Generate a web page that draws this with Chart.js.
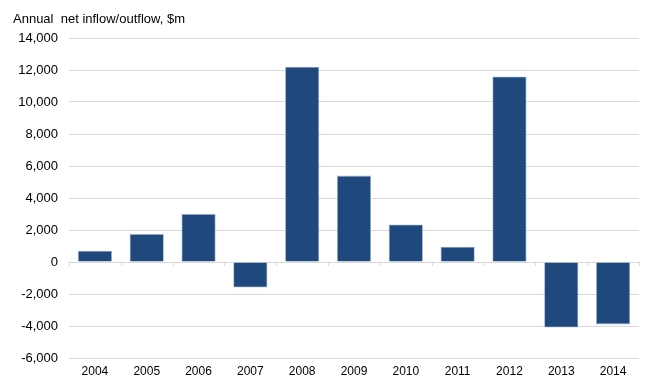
<!DOCTYPE html>
<html>
<head>
<meta charset="utf-8">
<script src="https://cdn.jsdelivr.net/npm/chart.js@4/dist/chart.umd.min.js"></script>
<style>
  html, body { margin: 0; padding: 0; background: #fff; }
  #wrap { width: 649px; height: 378px; position: relative; }
</style>
</head>
<body>
<div id="wrap"><canvas id="flow-chart"></canvas></div>
<script>
const years = ["2004", "2005", "2006", "2007", "2008", "2009", "2010", "2011", "2012", "2013", "2014"];
const netFlows = [700, 1750, 3000, -1600, 12200, 5400, 2350, 950, 11600, -4100, -3900];
const axisTitle = "Annual  net inflow/outflow, $m";

// small tick marks hanging under the zero line, one per category boundary
const zeroTicks = {
  id: "zeroTicks",
  afterDatasetsDraw(chart) {
    const x = chart.scales.x;
    const y0 = chart.scales.y.getPixelForValue(0);
    const step = (x.right - x.left) / years.length;
    const ctx = chart.ctx;
    ctx.save();
    ctx.strokeStyle = "#d9d9d9";
    ctx.lineWidth = 1;
    ctx.beginPath();
    for (let i = 0; i <= years.length; i++) {
      const px = Math.round(x.left + step * i) + 0.5;
      ctx.moveTo(px, y0);
      ctx.lineTo(px, y0 + 4);
    }
    ctx.stroke();
    ctx.restore();
  },
};

const titleText = {
  id: "titleText",
  afterDraw(chart) {
    const ctx = chart.ctx;
    ctx.save();
    ctx.font = "13px 'Liberation Sans', Arial, sans-serif";
    ctx.fillStyle = "#000";
    ctx.textBaseline = "middle";
    ctx.textAlign = "left";
    ctx.fillText(axisTitle, 13, 19);
    ctx.restore();
  },
};

const ctx = document.getElementById("flow-chart").getContext("2d");
const flowChart = new Chart(ctx, {
  type: "bar",
  data: {
    labels: years,
    datasets: [
      {
        label: "Net flow",
        data: netFlows,
        backgroundColor: "#1f497d",
        borderColor: "#9fb3cc",
        borderWidth: 0.8,
        categoryPercentage: 1,
        barPercentage: 0.66,
      },
    ],
  },
  options: {
    responsive: true,
    maintainAspectRatio: false,
    animation: false,
    layout: {
      padding: { left: 0, right: 10, top: 38, bottom: 0 },
    },
    scales: {
      x: {
        afterFit(scale) {
          scale.height = 20;
        },
        grid: { display: false, drawTicks: false },
        border: { display: false },
        ticks: {
          padding: 6,
          color: "#000",
          font: { family: "'Liberation Sans', Arial, sans-serif", size: 12 },
        },
      },
      y: {
        min: -6000,
        max: 14000,
        afterFit(scale) {
          scale.width = 69;
        },
        grid: { color: "#d9d9d9", drawTicks: false },
        border: { display: false },
        ticks: {
          stepSize: 2000,
          padding: 11,
          color: "#000",
          font: { family: "'Liberation Sans', Arial, sans-serif", size: 13 },
          callback: (v) => v.toLocaleString("en-US"),
        },
      },
    },
    plugins: {
      legend: { display: false },
      tooltip: { enabled: false },
    },
  },
  plugins: [zeroTicks, titleText],
});
</script>
</body>
</html>
